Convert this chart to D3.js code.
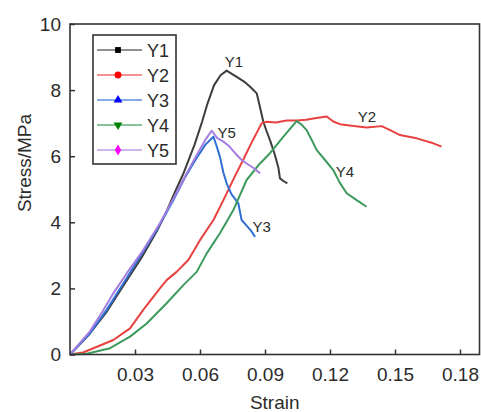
<!DOCTYPE html>
<html>
<head>
<meta charset="utf-8">
<script src="https://cdn.jsdelivr.net/npm/d3@7"></script>
<style>
  body { margin: 0; background: #fff; }
  text { font-family: "Liberation Sans", Arial, sans-serif; fill: #2b2b2b; }
</style>
</head>
<body>
<svg id="chart" width="481" height="412"></svg>
<script>
// strain / stress readings for each specimen
const y1Strain = [0, 0.009, 0.017, 0.025, 0.033, 0.040, 0.044, 0.048, 0.0525, 0.0575, 0.061, 0.0635, 0.0665, 0.0695, 0.0723, 0.0745, 0.0775, 0.0805, 0.0835, 0.0862, 0.0878, 0.0892, 0.0905, 0.0925, 0.0945, 0.0962, 0.0969, 0.0985, 0.1003];
const y1Stress = [0, 0.62, 1.30, 2.12, 2.93, 3.72, 4.25, 4.85, 5.5, 6.35, 7.05, 7.6, 8.15, 8.45, 8.59, 8.5, 8.38, 8.25, 8.08, 7.9, 7.45, 7.05, 6.8, 6.45, 6.05, 5.65, 5.33, 5.25, 5.18];

const y2Strain = [0, 0.006, 0.0108, 0.020, 0.0277, 0.0338, 0.0415, 0.0446, 0.0492, 0.0546, 0.060, 0.0662, 0.0708, 0.0754, 0.080, 0.0845, 0.0885, 0.0908, 0.095, 0.100, 0.1046, 0.109, 0.113, 0.1185, 0.1215, 0.1246, 0.130, 0.1369, 0.1438, 0.148, 0.1523, 0.160, 0.1677, 0.1715];
const y2Stress = [0, 0.06, 0.19, 0.44, 0.79, 1.35, 2.0, 2.25, 2.5, 2.86, 3.46, 4.07, 4.67, 5.3, 5.9, 6.5, 7.0, 7.04, 7.02, 7.08, 7.08, 7.1, 7.15, 7.2, 7.05, 6.97, 6.92, 6.87, 6.91, 6.78, 6.64, 6.54, 6.39, 6.29];

const y3Strain = [0, 0.0092, 0.0169, 0.0246, 0.0323, 0.040, 0.0477, 0.053, 0.058, 0.0625, 0.0662, 0.0677, 0.0692, 0.0708, 0.0723, 0.0745, 0.0777, 0.0792, 0.0815, 0.0835, 0.0854];
const y3Stress = [0, 0.64, 1.35, 2.15, 2.96, 3.77, 4.67, 5.35, 5.9, 6.35, 6.59, 6.3, 5.98, 5.5, 5.18, 4.85, 4.57, 4.07, 3.9, 3.75, 3.56];

const y4Strain = [0, 0.0077, 0.0185, 0.0277, 0.0354, 0.0446, 0.0523, 0.0585, 0.0631, 0.0692, 0.0754, 0.0815, 0.0877, 0.0923, 0.0985, 0.1046, 0.107, 0.1092, 0.1115, 0.1138, 0.1175, 0.1215, 0.1245, 0.1277, 0.1323, 0.1369];
const y4Stress = [0, 0.02, 0.19, 0.54, 0.94, 1.55, 2.10, 2.50, 3.06, 3.67, 4.37, 5.28, 5.78, 6.09, 6.59, 7.06, 6.95, 6.79, 6.5, 6.19, 5.9, 5.58, 5.2, 4.88, 4.67, 4.47];

const y5Strain = [0, 0.0092, 0.015, 0.020, 0.0262, 0.0338, 0.0415, 0.048, 0.054, 0.059, 0.0625, 0.0654, 0.068, 0.0708, 0.0735, 0.0762, 0.079, 0.0815, 0.0846, 0.0877];
const y5Stress = [0, 0.70, 1.3, 1.85, 2.46, 3.16, 3.97, 4.75, 5.5, 6.1, 6.5, 6.77, 6.55, 6.44, 6.3, 6.09, 5.9, 5.78, 5.65, 5.48];

const seriesNames = ["Y1", "Y2", "Y3", "Y4", "Y5"];
const lineColors = ["#3d3d3d", "#e8413f", "#2f6fd4", "#3c9a5c", "#a47ee0"];
const legendLineColors = ["#6b6b6b", "#ef6b6b", "#5b8ee0", "#5fb07a", "#c09ae6"];
const markerColors = ["#000000", "#ff0000", "#0000ff", "#008000", "#ff00ff"];
const markerShapes = [d3.symbolSquare, d3.symbolCircle, d3.symbolTriangle, d3.symbolTriangle, d3.symbolDiamond];

// curve label positions (strain, stress)
const labelStrain = [0.0757, 0.1371, 0.0885, 0.1269, 0.0723];
const labelStress = [8.71, 7.04, 3.72, 5.38, 6.55];

const xTicks = [0.03, 0.06, 0.09, 0.12, 0.15, 0.18];
const yTicks = [0, 2, 4, 6, 8, 10];

const strains = [y1Strain, y2Strain, y3Strain, y4Strain, y5Strain];
const stresses = [y1Stress, y2Stress, y3Stress, y4Stress, y5Stress];

const svg = d3.select("#chart");
const plotLeft = 70, plotRight = 479.5, plotTop = 24, plotBottom = 354.5;

const x = d3.scaleLinear().domain([0, 0.189]).range([plotLeft, plotRight]);
const y = d3.scaleLinear().domain([0, 10]).range([plotBottom, plotTop]);

// curves
const line = d3.line()
    .x(function(d) { return x(d[0]); })
    .y(function(d) { return y(d[1]); })
    .curve(d3.curveLinear);

seriesNames.forEach(function(name, i) {
    let pts = strains[i].map(function(s, j) { return [s, stresses[i][j]]; });
    svg.append("path")
        .attr("d", line(pts))
        .attr("fill", "none")
        .attr("stroke", lineColors[i])
        .attr("stroke-width", 2)
        .attr("stroke-linejoin", "round");
});

// axes with inward ticks
const xAxis = svg.append("g")
    .attr("transform", "translate(0," + plotBottom + ")")
    .call(d3.axisBottom(x).tickValues(xTicks).tickSize(-5).tickPadding(13).tickFormat(d3.format(".2f")));
const yAxis = svg.append("g")
    .attr("transform", "translate(" + plotLeft + ",0)")
    .call(d3.axisLeft(y).tickValues(yTicks).tickSize(-5).tickPadding(9).tickFormat(d3.format("d")));

[xAxis, yAxis].forEach(function(ax) {
    ax.select(".domain").remove();
    ax.selectAll("line").attr("stroke", "#333").attr("stroke-width", 1.5);
    ax.selectAll("text").style("font-size", "19px").attr("fill", "#2b2b2b")
        .style("font-family", "'Liberation Sans', Arial, sans-serif");
});

// frame
svg.append("rect")
    .attr("x", plotLeft).attr("y", plotTop)
    .attr("width", plotRight - plotLeft).attr("height", plotBottom - plotTop)
    .attr("fill", "none").attr("stroke", "#333").attr("stroke-width", 1.6);

// axis titles
svg.append("text").text("Strain")
    .attr("x", (plotLeft + plotRight) / 2).attr("y", 409)
    .attr("text-anchor", "middle").style("font-size", "19px");
svg.append("text").text("Stress/MPa")
    .attr("transform", "translate(31,163) rotate(-90)")
    .attr("text-anchor", "middle").style("font-size", "19px");

// curve labels
seriesNames.forEach(function(name, i) {
    svg.append("text").text(name)
        .attr("x", x(labelStrain[i])).attr("y", y(labelStress[i]))
        .attr("text-anchor", "middle").style("font-size", "15px");
});

// legend
const legend = svg.append("g");
legend.append("rect")
    .attr("x", 93).attr("y", 35).attr("width", 83).attr("height", 129)
    .attr("fill", "#fff").attr("stroke", "#333").attr("stroke-width", 1.6);

seriesNames.forEach(function(name, i) {
    let ly = 50 + i * 25;
    legend.append("line")
        .attr("x1", 97).attr("x2", 142).attr("y1", ly).attr("y2", ly)
        .attr("stroke", legendLineColors[i]).attr("stroke-width", 1.5);
    let rot = i === 3 ? " rotate(180)" : "";
    legend.append("path")
        .attr("d", d3.symbol().type(markerShapes[i]).size(i === 1 ? 38 : 34)())
        .attr("transform", "translate(118," + ly + ")" + rot)
        .attr("fill", markerColors[i]);
    legend.append("text").text(name)
        .attr("x", 147).attr("y", ly + 6.5)
        .style("font-size", "18px");
});
</script>
</body>
</html>
